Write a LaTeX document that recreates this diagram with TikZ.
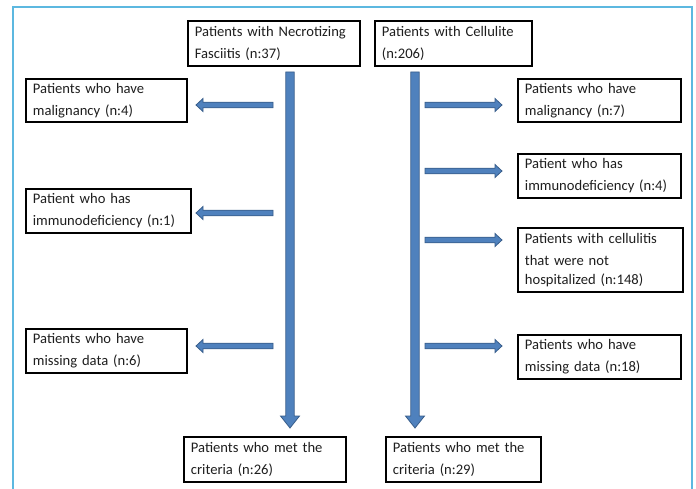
\documentclass[tikz,border=0pt]{standalone}
\usepackage{fontspec}
\setmainfont{Carlito}
\definecolor{arrfill}{RGB}{79,129,189}
\definecolor{arrline}{RGB}{56,93,138}
\definecolor{framec}{RGB}{92,184,224}
\definecolor{txt}{RGB}{30,30,30}
\newcommand\arrL[3]{% tail x, tip x, y ; pointing left
  \filldraw[arrowsty] (#1,#3-2.8) -- (#2+7,#3-2.8) -- (#2+7,#3-6.5) -- (#2,#3) -- (#2+7,#3+6.5) -- (#2+7,#3+2.8) -- (#1,#3+2.8) -- cycle;}
\newcommand\arrR[3]{% tail x, tip x, y ; pointing right
  \filldraw[arrowsty] (#1,#3-2.8) -- (#2-7,#3-2.8) -- (#2-7,#3-6.5) -- (#2,#3) -- (#2-7,#3+6.5) -- (#2-7,#3+2.8) -- (#1,#3+2.8) -- cycle;}
\newcommand\arrD[3]{% x, tail y, tip y ; pointing down
  \filldraw[arrowsty] (#1-4.2,#2) -- (#1-4.2,#3-12) -- (#1-9.5,#3-12) -- (#1,#3) -- (#1+9.5,#3-12) -- (#1+4.2,#3-12) -- (#1+4.2,#2) -- cycle;}
\newcommand\bx[6]{% name, x, y, w, h, text
  \pgfmathsetmacro\tw{#4-14}%
  \node[box, minimum width=#4pt, minimum height=#5pt, text width=\tw pt] (#1) at (#2,#3) {\vspace*{3pt}#6};}
\begin{document}
\begin{tikzpicture}[x=1pt,y=-1pt,
  box/.style={draw=black, line width=1.8pt, anchor=north west, align=left,
    inner xsep=6.5pt, inner ysep=0pt, text=txt, font=\fontsize{14.6}{19}\selectfont},
  arrowsty/.style={fill=arrfill, draw=arrline, line width=0.8pt, line join=miter}]
\useasboundingbox (0,0) rectangle (696,489);
\draw[framec, line width=1.5pt] (13,489) -- (13,7) -- (692,7) -- (692,489);

\bx{nf}{187}{20}{172}{45}{Patients with Necrotizing\\Fasciitis (n:37)}
\bx{ce}{374}{20}{157}{45}{Patients with Cellulite\\(n:206)}

\bx{l1}{25}{78}{161}{43}{Patients who have\\malignancy (n:4)}
\bx{l2}{25}{188}{165}{44}{Patient who has\\immunodeficiency (n:1)}
\bx{l3}{25}{328}{161}{44}{Patients who have\\missing data (n:6)}

\bx{r1}{517}{78}{163}{43}{Patients who have\\malignancy (n:7)}
\bx{r2}{517}{153}{163}{44}{Patient who has\\immunodeficiency (n:4)}
\bx{r3}{517}{227}{165}{64}{Patients with cellulitis\\that were not\\hospitalized (n:148)}
\bx{r4}{517}{334}{163}{44}{Patients who have\\missing data (n:18)}

\bx{b1}{183}{436}{162}{45}{Patients who met the\\criteria (n:26)}
\bx{b2}{385}{436}{155}{45}{Patients who met the\\criteria (n:29)}

\arrD{290}{72}{428}
\arrD{415}{72}{428}

\arrL{273}{196}{105}
\arrL{273}{196}{213}
\arrL{273}{196}{346}

\arrR{425}{502}{105}
\arrR{425}{502}{171}
\arrR{425}{502}{240}
\arrR{425}{502}{346}
\end{tikzpicture}
\end{document}
